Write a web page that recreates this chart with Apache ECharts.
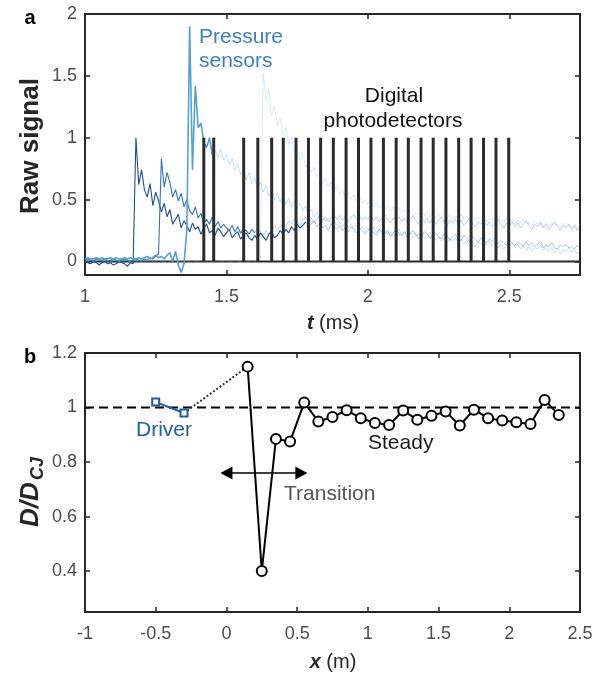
<!DOCTYPE html>
<html>
<head>
<meta charset="utf-8">
<script src="https://cdn.jsdelivr.net/npm/echarts@6/dist/echarts.min.js"></script>
<style>
  html, body { margin: 0; padding: 0; background: #fff; }
  #chart { width: 603px; height: 676px; }
</style>
</head>
<body>
<div id="chart"></div>
<script>
// ---------- Panel a: raw signals (time in ms) ----------
// Pressure traces are sampled every 10 microseconds starting at t = 1.00 ms.
const SAMPLE_T0 = 1.0;
const SAMPLE_DT = 0.01;

const sensor1 = [
  0.00,-0.01,-0.02,0.00,-0.01,-0.03,-0.01,0.00,-0.02,-0.01,-0.03,-0.02,0.00,-0.01,-0.02,-0.04,-0.01,-0.02,
  1.00,0.62,0.74,0.58,0.52,0.63,0.45,0.56,0.49,0.40,0.47,0.36,
  0.42,0.30,0.34,0.38,0.27,0.33,0.29,0.24,0.31,0.26,
  0.28,0.22,0.27,0.30,0.23,0.25,0.21,0.27,0.24,0.20,
  0.23,0.26,0.19,0.22,0.24,0.18,0.21,0.23,0.19,0.17,
  0.21,0.18,0.23,0.20,0.17,0.22,0.24,0.19,0.21,0.25,
  0.22,0.26,0.23,0.28,0.25,0.30,0.27,0.29,0.32,0.28,
  0.30,0.33,0.28,0.31,0.27,0.29,0.25,0.30,0.28,0.26,
  0.29,0.25,0.27,0.24,0.28,0.26,0.23,0.27,0.25,0.22,
  0.25,0.27,0.23,0.21,0.26,0.24,0.22,0.25,0.20,0.23,
  0.26,0.22,0.21,0.24,0.19,0.23,0.25,0.21,0.22,0.20,
  0.24,0.22,0.19,0.21,0.23,0.20,0.18,0.22,0.21,0.17,
  0.20,0.22,0.18,0.17,0.21,0.19,0.16,0.20,0.18,0.15,
  0.19,0.17,0.15,0.18,0.16,0.19,0.14,0.17,0.15,0.13,
  0.17,0.15,0.13,0.16,0.14,0.12,0.16,0.13,0.15,0.12,
  0.14,0.16,0.11,0.13,0.12,0.15,0.11,0.10,0.13,0.12,
  0.14,0.11,0.12,0.10,0.13,0.11
];

const sensor2 = [
  0.01,0.02,0.01,0.00,0.02,0.01,0.01,0.02,0.00,0.01,0.02,0.01,0.00,0.01,0.02,0.01,0.00,0.01,0.02,0.01,
  0.00,0.02,0.01,0.03,0.02,0.04,0.06,
  0.83,0.60,0.72,0.64,0.52,0.58,0.49,0.55,0.44,0.50,0.41,0.38,0.44,
  0.35,0.39,0.31,0.34,0.30,0.36,0.28,0.32,0.27,0.30,
  0.27,0.25,0.29,0.24,0.28,0.23,0.26,0.25,0.22,0.26,
  0.23,0.27,0.24,0.21,0.25,0.22,0.26,0.29,0.25,0.28,
  0.31,0.28,0.33,0.30,0.35,0.32,0.29,0.33,0.36,0.32,
  0.35,0.31,0.34,0.37,0.33,0.36,0.32,0.35,0.38,0.34,
  0.37,0.33,0.36,0.32,0.35,0.38,0.34,0.37,0.33,0.36,
  0.34,0.37,0.33,0.36,0.32,0.35,0.38,0.34,0.31,0.35,
  0.33,0.36,0.32,0.35,0.31,0.34,0.37,0.33,0.30,0.34,
  0.32,0.35,0.31,0.34,0.30,0.33,0.36,0.32,0.29,0.33,
  0.31,0.34,0.30,0.33,0.29,0.32,0.35,0.31,0.28,0.32,
  0.30,0.33,0.29,0.32,0.28,0.31,0.34,0.30,0.27,0.31,
  0.29,0.32,0.28,0.31,0.27,0.30,0.33,0.29,0.26,0.30,
  0.28,0.31,0.27,0.30,0.26,0.29,0.32,0.28,0.25,0.29,
  0.27,0.30,0.26,0.29,0.25,0.28
];

const sensor3 = [
  0.02,0.03,0.02,0.02,0.03,0.02,0.03,0.02,0.02,0.03,
  0.02,0.03,0.02,0.02,0.03,0.02,0.03,0.02,0.02,0.03,
  0.02,0.03,0.04,0.02,0.03,0.05,0.03,0.04,0.02,0.05,
  0.07,0.00,0.08,-0.03,-0.09,-0.02,0.25,
  1.90,0.74,1.42,1.08,1.12,0.96,0.92,1.00,0.86,
  0.90,0.84,0.91,0.82,
  0.86,0.78,0.83,0.74,0.79,0.70,0.75,0.66,0.72,0.63,
  0.68,0.59,0.64,0.56,0.61,0.53,0.58,0.50,0.55,0.48,
  0.53,0.46,0.51,0.44,0.49,0.43,0.47,0.41,0.45,0.38,
  0.42,0.36,0.40,0.34,0.37,0.32,0.35,0.30,0.33,0.29,
  0.32,0.28,0.31,0.27,0.30,0.26,0.29,0.25,0.28,0.24,
  0.27,0.24,0.28,0.23,0.26,0.22,0.25,0.21,0.24,0.20,
  0.23,0.26,0.21,0.24,0.20,0.23,0.19,0.22,0.18,0.21,
  0.19,0.22,0.18,0.21,0.17,0.20,0.16,0.19,0.15,0.18,
  0.16,0.19,0.15,0.18,0.14,0.17,0.13,0.16,0.12,0.15,
  0.14,0.17,0.13,0.16,0.12,0.15,0.11,0.14,0.10,0.13,
  0.12,0.15,0.11,0.14,0.10,0.13,0.09,0.12,0.08,0.11,
  0.10,0.13,0.09,0.12,0.08,0.11,0.07,0.10,0.06,0.09,
  0.08,0.11,0.07,0.10,0.06,0.09
];

const sensor4 = [
  0.00,0.00,0.01,0.00,0.00,0.01,0.00,0.00,0.01,0.00,
  0.00,0.01,0.00,0.00,0.01,0.00,0.00,0.01,0.00,0.00,
  0.01,0.00,0.00,0.01,0.00,0.00,0.01,0.00,0.00,0.01,
  0.00,0.00,0.01,0.00,0.00,0.01,0.00,0.00,0.01,0.00,
  0.00,0.01,0.00,0.00,0.01,0.00,0.00,0.01,0.00,0.00,
  0.01,0.00,0.00,0.01,0.00,0.00,0.01,0.00,0.00,0.01,
  0.00,0.01,0.02,
  1.52,1.30,1.38,1.18,1.25,1.10,1.16,
  1.02,1.08,0.95,1.00,0.88,0.93,0.82,0.87,0.76,0.80,
  0.72,0.76,0.68,0.71,0.63,0.67,0.60,0.64,0.57,0.61,
  0.55,0.58,0.52,0.56,0.50,0.54,0.48,0.52,0.47,0.50,
  0.46,0.49,0.44,0.48,0.43,0.46,0.42,0.45,0.41,0.44,
  0.40,0.43,0.39,0.42,0.38,0.41,0.37,0.40,0.38,0.41,
  0.37,0.40,0.36,0.39,0.35,0.38,0.36,0.39,0.35,0.38,
  0.34,0.37,0.35,0.38,0.34,0.36,0.33,0.37,0.34,0.36,
  0.33,0.36,0.32,0.35,0.33,0.36,0.32,0.34,0.31,0.35,
  0.32,0.34,0.30,0.33,0.31,0.34,0.30,0.32,0.29,0.33,
  0.30,0.32,0.28,0.31,0.29,0.32,0.28,0.30,0.27,0.31,
  0.28,0.30,0.26,0.29,0.27,0.30
];

// Times (ms) at which each digital photodetector fires (signal steps to 1).
const photodetectorTimes = [
  1.420,1.455,1.561,1.611,1.660,1.701,1.746,1.790,1.833,1.878,1.923,1.967,
  2.011,2.055,2.100,2.143,2.188,2.231,2.276,2.321,2.365,2.409,2.453,2.498
];
const photodetectorLevel = 1;

const tRange = [1, 2.75];
const rawRange = [-0.11, 2];
const tTicks = [1, 1.5, 2, 2.5];
const rawTicks = [0, 0.5, 1, 1.5, 2];

// ---------- Panel b: normalised detonation speed vs position ----------
const driverX = [-0.5, -0.3];
const driverD = [1.02, 0.98];

const stationX = [0.15,0.25,0.35,0.45,0.55,0.65,0.75,0.85,0.95,1.05,1.15,1.25,
                  1.35,1.45,1.55,1.65,1.75,1.85,1.95,2.05,2.15,2.25,2.35];
const stationD = [1.15,0.40,0.885,0.875,1.018,0.949,0.965,0.99,0.961,0.943,0.936,0.989,
                  0.955,0.97,0.985,0.934,0.992,0.961,0.952,0.946,0.94,1.028,0.973];

const cjLevel = 1;
const transitionSpan = [0.0, 0.53];
const transitionLevel = 0.76;

const xRange = [-1, 2.5];
const dRange = [0.25, 1.2];
const xTicks = [-1, -0.5, 0, 0.5, 1, 1.5, 2, 2.5];
const dTicks = [0.4, 0.6, 0.8, 1, 1.2];

// ---------- helpers ----------
const FONT = "'Liberation Sans', Arial, Helvetica, sans-serif";
const AXIS_COLOR = '#262626';
const LABEL_COLOR = '#4d4d4d';

function traceToPoints(values) {
  return values.map((v, i) => [+(SAMPLE_T0 + i * SAMPLE_DT).toFixed(3), v]);
}

// Each trace: bright early part, then a pale thin continuation.
function traceSeries(values, color, fadeAt, width, faintOnly) {
  const pts = traceToPoints(values);
  const out = [];
  if (!faintOnly) {
    out.push({
      type: 'line', xAxisIndex: 0, yAxisIndex: 0, z: 2,
      data: pts.filter(p => p[0] <= fadeAt + 1e-9),
      showSymbol: false, symbol: 'none', silent: true, animation: false,
      lineStyle: { color: color, width: width }
    });
  }
  out.push({
    type: 'line', xAxisIndex: 0, yAxisIndex: 0, z: 1,
    data: faintOnly ? pts : pts.filter(p => p[0] >= fadeAt - 1e-9),
    showSymbol: false, symbol: 'none', silent: true, animation: false,
    lineStyle: { color: color, width: 0.8, opacity: faintOnly ? 0.35 : 0.4 }
  });
  return out;
}

function boxAxis(base, pos, gridIndex, range, ticks) {
  return Object.assign({
    type: 'value', gridIndex: gridIndex, position: pos,
    min: range[0], max: range[1],
    splitLine: { show: false },
    axisLine: { show: true, onZero: false, lineStyle: { color: AXIS_COLOR, width: 2 } },
    axisTick: { show: true, inside: true, length: 5, customValues: ticks,
                lineStyle: { color: AXIS_COLOR, width: 1.5 } },
    axisLabel: { show: false, customValues: ticks }
  }, base);
}

function labelledAxis(pos, gridIndex, range, ticks, margin) {
  return boxAxis({
    axisLabel: {
      show: true, customValues: ticks, margin: margin,
      color: LABEL_COLOR, fontSize: 18, fontFamily: FONT,
      formatter: v => String(+v.toFixed(2))
    }
  }, pos, gridIndex, range, ticks);
}

const chart = echarts.init(document.getElementById('chart'), null, { renderer: 'canvas' });

const series = [];
series.push(...traceSeries(sensor1, '#1b4f91', 1.78, 1.1, false));
series.push(...traceSeries(sensor2, '#2f76b7', 1.60, 1.1, false));
series.push(...traceSeries(sensor3, '#56a0d6', 1.45, 1.6, false));
series.push(...traceSeries(sensor4, '#7fb6e2', 1.62, 0.8, true));

// photodetector baseline + firing pulses
series.push({
  type: 'line', xAxisIndex: 0, yAxisIndex: 0, z: 0,
  data: [[tRange[0], 0], [tRange[1], 0]],
  showSymbol: false, symbol: 'none', silent: true, animation: false,
  lineStyle: { color: '#2b2b2b', width: 2 }
});
series.push({
  type: 'bar', xAxisIndex: 0, yAxisIndex: 0, z: 5,
  data: photodetectorTimes.map(t => [t, photodetectorLevel]),
  barWidth: 3, silent: true, animation: false,
  itemStyle: { color: '#2b2b2b' }
});

// panel b: CJ reference
series.push({
  type: 'line', xAxisIndex: 2, yAxisIndex: 2, z: 2,
  data: [[xRange[0], cjLevel], [xRange[1], cjLevel]],
  showSymbol: false, symbol: 'none', silent: true, animation: false,
  lineStyle: { color: '#000', width: 2, type: [9, 5] }
});
// connector from driver to first test-section station
series.push({
  type: 'line', xAxisIndex: 2, yAxisIndex: 2, z: 3,
  data: [[driverX[driverX.length - 1], driverD[driverD.length - 1]], [stationX[0], stationD[0]]],
  showSymbol: false, symbol: 'none', silent: true, animation: false,
  lineStyle: { color: '#333', width: 2, type: [2, 2] }
});
// driver section
series.push({
  type: 'line', xAxisIndex: 2, yAxisIndex: 2, z: 4,
  data: driverX.map((x, i) => [x, driverD[i]]),
  symbol: 'rect', symbolSize: 7, showSymbol: true, silent: true, animation: false,
  lineStyle: { color: '#1f5ca6', width: 2 },
  itemStyle: { color: '#fff', borderColor: '#1f5ca6', borderWidth: 2 }
});
// test section stations
series.push({
  type: 'line', xAxisIndex: 2, yAxisIndex: 2, z: 4,
  data: stationX.map((x, i) => [x, stationD[i]]),
  symbol: 'circle', symbolSize: 10, showSymbol: true, silent: true, animation: false,
  lineStyle: { color: '#000', width: 2 },
  itemStyle: { color: '#fff', borderColor: '#000', borderWidth: 2 },
  markLine: {
    silent: true, animation: false,
    symbol: ['triangle', 'triangle'], symbolSize: [13, 12],
    label: { show: false },
    lineStyle: { color: '#000', width: 1.5, type: 'solid' },
    data: [[{ coord: [transitionSpan[0], transitionLevel] }, { coord: [transitionSpan[1], transitionLevel] }]]
  }
});

const GRID_L = 85, GRID_W = 495;

const option = {
  backgroundColor: '#fff',
  animation: false,
  grid: [
    { left: GRID_L, top: 14, width: GRID_W, height: 261 },
    { left: GRID_L, top: 353, width: GRID_W, height: 259 }
  ],
  xAxis: [
    labelledAxis('bottom', 0, tRange, tTicks, 13),
    boxAxis({}, 'top', 0, tRange, tTicks),
    labelledAxis('bottom', 1, xRange, xTicks, 13),
    boxAxis({}, 'top', 1, xRange, xTicks)
  ],
  yAxis: [
    labelledAxis('left', 0, rawRange, rawTicks, 8),
    boxAxis({}, 'right', 0, rawRange, rawTicks),
    labelledAxis('left', 1, dRange, dTicks, 8),
    boxAxis({}, 'right', 1, dRange, dTicks)
  ],
  series: series,
  graphic: [
    { type: 'text', x: 30, y: 18, style: { text: 'a', font: 'bold 20px ' + FONT, fill: '#000', align: 'center', verticalAlign: 'middle' } },
    { type: 'text', x: 30, y: 357, style: { text: 'b', font: 'bold 20px ' + FONT, fill: '#000', align: 'center', verticalAlign: 'middle' } },
    { type: 'text', x: 31, y: 146, rotation: Math.PI / 2,
      style: { text: 'Raw signal', font: 'bold 26px ' + FONT, fill: '#262626', align: 'center', verticalAlign: 'middle' } },
    { type: 'text', x: 333, y: 323,
      style: { text: '{i|t} (ms)', font: '20px ' + FONT, fill: '#262626', align: 'center', verticalAlign: 'middle',
               rich: { i: { font: 'italic bold 20px ' + FONT, fill: '#262626' } } } },
    { type: 'text', x: 333, y: 662,
      style: { text: '{i|x} (m)', font: '20px ' + FONT, fill: '#262626', align: 'center', verticalAlign: 'middle',
               rich: { i: { font: 'italic bold 20px ' + FONT, fill: '#262626' } } } },
    { type: 'text', x: 31, y: 527, rotation: Math.PI / 2,
      style: { text: 'D/D', font: 'italic bold 26px ' + FONT, fill: '#262626', align: 'left', verticalAlign: 'middle' } },
    { type: 'text', x: 38, y: 480, rotation: Math.PI / 2,
      style: { text: 'CJ', font: 'italic bold 18px ' + FONT, fill: '#262626', align: 'left', verticalAlign: 'middle' } },
    { type: 'text', x: 199, y: 37, style: { text: 'Pressure', font: '21px ' + FONT, fill: '#3a82c4', align: 'left', verticalAlign: 'middle' } },
    { type: 'text', x: 199, y: 61, style: { text: 'sensors', font: '21px ' + FONT, fill: '#3a82c4', align: 'left', verticalAlign: 'middle' } },
    { type: 'text', x: 394, y: 96, style: { text: 'Digital', font: '21px ' + FONT, fill: '#111', align: 'center', verticalAlign: 'middle' } },
    { type: 'text', x: 393, y: 121, style: { text: 'photodetectors', font: '21px ' + FONT, fill: '#111', align: 'center', verticalAlign: 'middle' } },
    { type: 'text', x: 136, y: 430, style: { text: 'Driver', font: '21px ' + FONT, fill: '#2260a8', align: 'left', verticalAlign: 'middle' } },
    { type: 'text', x: 368, y: 443, style: { text: 'Steady', font: '21px ' + FONT, fill: '#1a1a1a', align: 'left', verticalAlign: 'middle' } },
    { type: 'text', x: 284, y: 494, style: { text: 'Transition', font: '21px ' + FONT, fill: '#555', align: 'left', verticalAlign: 'middle' } }
  ]
};

chart.setOption(option);
</script>
</body>
</html>
